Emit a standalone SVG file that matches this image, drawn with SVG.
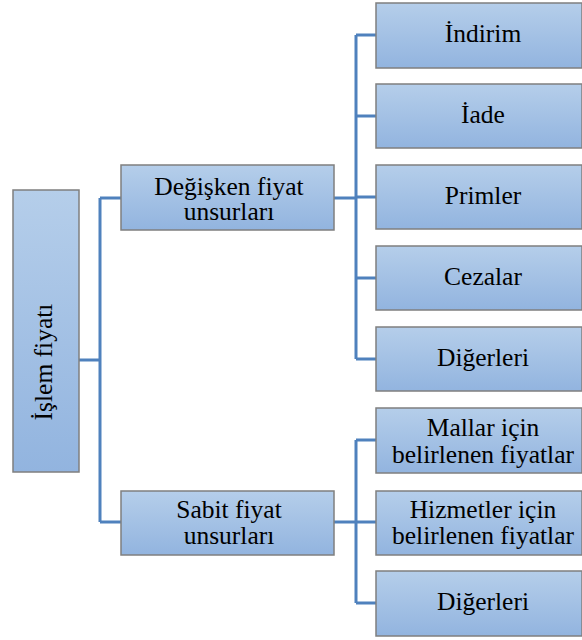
<svg xmlns="http://www.w3.org/2000/svg" width="582" height="640" viewBox="0 0 582 640">
<defs>
<linearGradient id="g" x1="0" y1="0" x2="0" y2="1">
<stop offset="0" stop-color="#b5ceea"/>
<stop offset="1" stop-color="#92b4df"/>
</linearGradient>
</defs>
<style>
.box{fill:url(#g);stroke:#7f7f7f;stroke-width:1.5}
.c{fill:none;stroke:#4f81bd;stroke-width:3}
</style>
<rect width="582" height="640" fill="#fff"/>
<g id="connectors">
<path class="c" d="M79 360 H100 M100 198 V522 M100 198 H121 M100 522 H121"/>
<path class="c" d="M334 198 H356 M356 35 V359 M356 35 H376 M356 116 H376 M356 197 H376 M356 278 H376 M356 359 H376"/>
<path class="c" d="M334 522 H356 M356 440 V603 M356 440 H376 M356 522 H376 M356 603 H376"/>
</g>
<g font-family="Liberation Serif, Times New Roman, serif" font-size="25.5" fill="#000" text-anchor="middle">
<g id="root">
<rect class="box" x="13" y="190" width="66" height="282"/>
<text transform="translate(52 362) rotate(-90)">İşlem fiyatı</text>
</g>
<g id="degisken">
<rect class="box" x="121" y="165" width="213" height="65"/>
<text x="229" y="195">Değişken fiyat</text>
<text x="229" y="220">unsurları</text>
</g>
<g id="sabit">
<rect class="box" x="121" y="491" width="213" height="64"/>
<text x="229" y="518">Sabit fiyat</text>
<text x="229" y="544">unsurları</text>
</g>
<g id="indirim">
<rect class="box" x="376" y="3" width="206" height="65"/>
<text x="483" y="42">İndirim</text>
</g>
<g id="iade">
<rect class="box" x="376" y="84" width="206" height="64"/>
<text x="483" y="123">İade</text>
</g>
<g id="primler">
<rect class="box" x="376" y="165" width="206" height="64"/>
<text x="483" y="204">Primler</text>
</g>
<g id="cezalar">
<rect class="box" x="376" y="246" width="206" height="64"/>
<text x="483" y="285">Cezalar</text>
</g>
<g id="digerleri1">
<rect class="box" x="376" y="327" width="206" height="64"/>
<text x="483" y="366">Diğerleri</text>
</g>
<g id="mallar">
<rect class="box" x="376" y="408" width="206" height="65"/>
<text x="483" y="436">Mallar için</text>
<text x="483" y="463">belirlenen fiyatlar</text>
</g>
<g id="hizmetler">
<rect class="box" x="376" y="491" width="206" height="64"/>
<text x="483" y="518">Hizmetler için</text>
<text x="483" y="544">belirlenen fiyatlar</text>
</g>
<g id="digerleri2">
<rect class="box" x="376" y="571" width="206" height="65"/>
<text x="483" y="610">Diğerleri</text>
</g>
</g>
</svg>
